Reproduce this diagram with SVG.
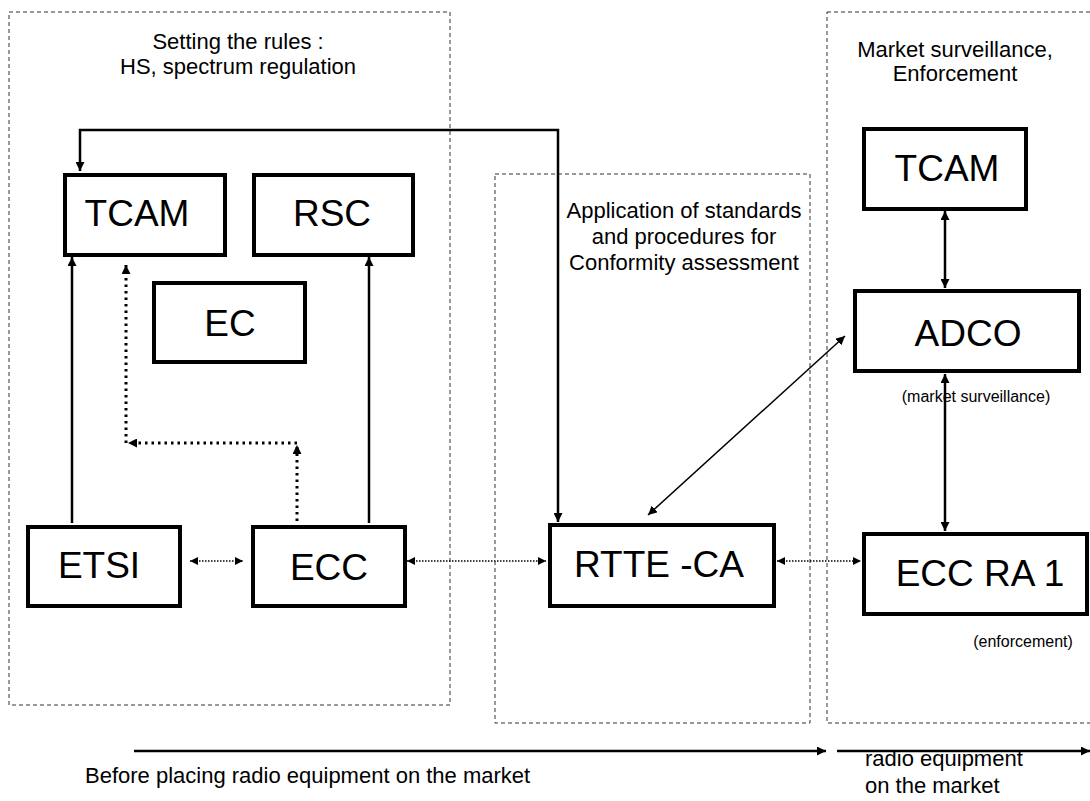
<svg xmlns="http://www.w3.org/2000/svg" width="1090" height="801" viewBox="0 0 1090 801">
<style>
text{font-family:"Liberation Sans",Arial,sans-serif;fill:#000}
.lbl{font-size:22px}
.node{font-size:37px}
.small{font-size:16px}
.box{fill:#fff;stroke:#000;stroke-width:4}
.zone{fill:none;stroke:#333;stroke-width:1;stroke-dasharray:4 3}
.solid{fill:none;stroke:#000;stroke-width:2.5}
.thin{fill:none;stroke:#000;stroke-width:1.5}
.dot{fill:none;stroke:#000;stroke-width:1.5;stroke-dasharray:1.5 1.5}
.dotb{fill:none;stroke:#000;stroke-width:3;stroke-dasharray:2.5 4}
</style>
<defs>
<marker id="ah" viewBox="0 0 10 10" refX="10" refY="5" markerWidth="9" markerHeight="9" markerUnits="userSpaceOnUse" orient="auto-start-reverse">
<path d="M0,0 L10,5 L0,10 z" fill="#000"/>
</marker>
<marker id="ahs" viewBox="0 0 10 10" refX="10" refY="5" markerWidth="8" markerHeight="8" markerUnits="userSpaceOnUse" orient="auto-start-reverse">
<path d="M0,0 L10,5 L0,10 z" fill="#000"/>
</marker>
</defs>

<g id="zones">
<rect class="zone" x="9" y="12" width="441" height="693"/>
<rect class="zone" x="495" y="174" width="315" height="549"/>
<rect class="zone" x="827" y="12" width="270" height="711"/>
</g>

<g id="zone-labels">
<text class="lbl" x="238" y="49" text-anchor="middle">Setting the rules :</text>
<text class="lbl" x="238" y="74" text-anchor="middle">HS, spectrum regulation</text>
<text class="lbl" x="684" y="218" text-anchor="middle">Application of standards</text>
<text class="lbl" x="684" y="244" text-anchor="middle">and procedures for</text>
<text class="lbl" x="684" y="270" text-anchor="middle">Conformity assessment</text>
<text class="lbl" x="955" y="57" text-anchor="middle">Market surveillance,</text>
<text class="lbl" x="955" y="81" text-anchor="middle">Enforcement</text>
</g>

<g id="connectors">
<path class="solid" d="M80,171 V130 H558 V522" marker-start="url(#ah)" marker-end="url(#ah)"/>
<path class="solid" d="M72,523 V257" marker-end="url(#ah)"/>
<path class="solid" d="M369,523 V257" marker-end="url(#ah)"/>
<path class="dotb" d="M297,521 V445" marker-end="url(#ah)"/>
<path class="dotb" d="M297,443 H128" marker-end="url(#ah)"/>
<path class="dotb" d="M126,443 V265" marker-end="url(#ah)"/>
<path class="dot" d="M190,561 H243" marker-start="url(#ahs)" marker-end="url(#ahs)"/>
<path class="dot" d="M407,561 H546" marker-start="url(#ahs)" marker-end="url(#ahs)"/>
<path class="dot" d="M777,561 H861" marker-start="url(#ahs)" marker-end="url(#ahs)"/>
<path class="thin" d="M648,515 L845,336" marker-start="url(#ah)" marker-end="url(#ah)"/>
<path class="solid" d="M945,211 V288" marker-start="url(#ah)" marker-end="url(#ah)"/>
<path class="solid" d="M945,374 V531" marker-start="url(#ah)" marker-end="url(#ah)"/>
<path class="solid" d="M134,751 H826" marker-end="url(#ah)"/>
<path class="solid" d="M837,751 H1090" marker-end="url(#ah)"/>
</g>

<g id="tcam-left">
<rect class="box" x="65" y="175" width="160" height="80"/>
<text class="node" x="137" y="226" text-anchor="middle">TCAM</text>
</g>
<g id="rsc">
<rect class="box" x="254" y="175" width="159" height="80"/>
<text class="node" x="332" y="226" text-anchor="middle">RSC</text>
</g>
<g id="ec">
<rect class="box" x="154" y="283" width="151" height="79"/>
<text class="node" x="230" y="336" text-anchor="middle">EC</text>
</g>
<g id="etsi">
<rect class="box" x="28" y="527" width="152" height="79"/>
<text class="node" x="99" y="578" text-anchor="middle">ETSI</text>
</g>
<g id="ecc">
<rect class="box" x="253" y="527" width="152" height="79"/>
<text class="node" x="329" y="580" text-anchor="middle">ECC</text>
</g>
<g id="rtte-ca">
<rect class="box" x="550" y="525" width="224" height="81"/>
<text class="node" x="659" y="577" text-anchor="middle">RTTE -CA</text>
</g>
<g id="tcam-right">
<rect class="box" x="864" y="129" width="162" height="80"/>
<text class="node" x="947" y="181" text-anchor="middle">TCAM</text>
</g>
<g id="adco">
<rect class="box" x="855" y="291" width="224" height="80"/>
<text class="node" x="968" y="346" text-anchor="middle">ADCO</text>
<text class="small" x="976" y="402" text-anchor="middle">(market surveillance)</text>
</g>
<g id="ecc-ra1">
<rect class="box" x="864" y="534" width="223" height="80"/>
<text class="node" x="980" y="586" text-anchor="middle">ECC RA 1</text>
<text class="small" x="1023" y="647" text-anchor="middle">(enforcement)</text>
</g>

<g id="timeline-labels">
<text class="lbl" x="85" y="783">Before placing radio equipment on the market</text>
<text class="lbl" x="865" y="766">radio equipment</text>
<text class="lbl" x="865" y="793">on the market</text>
</g>
</svg>
